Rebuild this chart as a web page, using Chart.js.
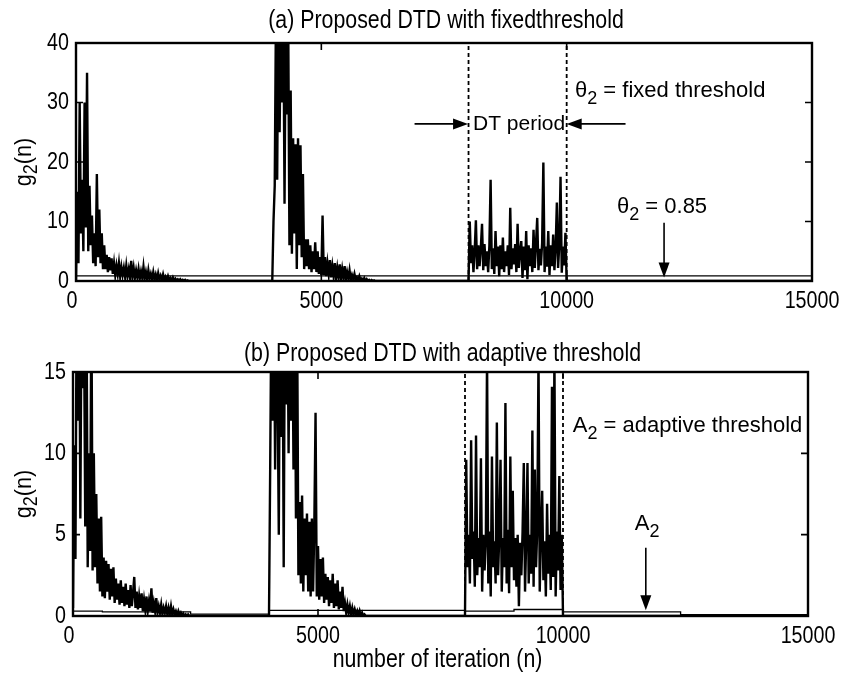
<!DOCTYPE html>
<html>
<head>
<meta charset="utf-8">
<script src="https://cdn.jsdelivr.net/npm/chart.js@4.4.0/dist/chart.umd.min.js"></script>
<style>
  body { margin: 0; background: #fff; }
  #wrap { position: relative; width: 842px; height: 682px; }
  .box { position: absolute; left: 0; width: 842px; }
</style>
</head>
<body>
<div id="wrap">
  <div class="box" style="top:0;height:330px"><canvas id="chartA" width="842" height="330"></canvas></div>
  <div class="box" style="top:330px;height:352px"><canvas id="chartB" width="842" height="352"></canvas></div>
</div>
<script>
// sample spacing of the traces (iterations)
const STEP = 25;
const X_MAX = 15000;
const xTickVals = [0, 5000, 10000, 15000];
const yTicksA = [0, 10, 20, 30, 40];
const yTicksB = [0, 5, 10, 15];
const segStarts = [0, 4000, 8000];
const dtPeriod = [8000, 10000];

// (a) g2(n), fixed threshold
const topSegA = [0, 15, 3, 30, 8, 17, 5, 30, 9, 35, 5, 16, 6, 11, 3, 8, 2.5, 18, 4, 12, 3, 8, 2, 6, 2, 4.4,
  1.5, 4, 1.8, 3.8, 1.2, 3, 1, 2.6, 1.2, 3, 0.8, 2.4, 1, 2.2, 0.7, 2.6, 0.8, 2, 0.6, 3.4, 0.7, 2.2, 0.5, 1.8,
  0.6, 2, 0.4, 1.6, 0.5, 2.4, 0.4, 1.5, 0.3, 1.8, 0.4, 1.2, 0.3, 1.5, 0.3, 1.1, 0.2, 1.3, 0.3, 0.9, 0.2, 1.1,
  0.2, 0.7, 0.1, 0.8, 0.1, 0.5, 0.1, 0.6, 0.1, 0.4, 0.1, 0.3, 0.05, 0.3, 0.05, 0.2, 0.05, 0.2, 0, 0.1, 0];
const topSegB = [0, 10, 16, 45, 17, 50, 25, 45, 30, 48, 13, 46, 28, 44, 6, 32, 4.6, 24, 8, 23, 2, 24, 6, 22.8,
  4, 18, 2, 7, 2.5, 7, 2, 6, 1.5, 5, 2, 6.5, 1.5, 5, 1.2, 4, 1, 11, 1, 4, 0.8, 3, 1.2, 3.5, 0.6, 2.5, 0.8, 3,
  0.5, 2.2, 0.6, 2.8, 0.4, 2, 0.5, 2.5, 0.3, 1.5, 0.4, 1.8, 0.2, 1, 0.3, 1.2, 0.2, 0.6, 0.1, 0.8, 0.1, 0.4,
  0.1, 0.5, 0, 0.3, 0, 0.2, 0, 0.15, 0, 0.1, 0];
const topSegC = [0, 10, 3, 6, 1.5, 5, 10.2, 2, 6, 2.5, 5.5, 9.6, 1.8, 6.2, 2.5, 5, 1.5, 6, 17, 2, 5.5, 1.2,
  8.4, 2.5, 5.8, 0.8, 6, 2, 7.3, 1.5, 5, 2.5, 6, 1, 12.3, 2, 5.5, 2.8, 6.2, 1.5, 9.6, 2.2, 5, 6.7, 0.5, 5.8,
  1.8, 8.4, 0.3, 6, 2.5, 5.5, 1.5, 8.6, 2.2, 6.3, 10.6, 1.8, 5.4, 2.6, 6.4, 19.9, 1.5, 5.8, 2.4, 8.4, 1, 6,
  2.5, 7.8, 1.8, 5.5, 13.2, 2.2, 6.2, 17.5, 1.4, 5.8, 2.6, 8.1, 0];
const fixedTheta = 0.85;

// (b) g2(n), adaptive threshold
const botSegA = [0.5, 10.5, 3.5, 20, 12, 22, 6, 20, 14, 18, 5.5, 20, 3, 10, 4, 20, 2.8, 10, 3, 7.5, 2, 6, 1.5,
  6.1, 1.2, 3.6, 1.1, 3.4, 1.5, 3.2, 1, 2.9, 1.2, 3, 0.8, 2.3, 1, 2, 0.7, 2.2, 0.8, 1.8, 0.6, 2, 0.7, 1.6, 0.5,
  1.9, 0.6, 1.4, 2.4, 0.5, 1.5, 0.4, 1.2, 0.5, 1.4, 0.3, 1, 0.4, 1.2, 0.3, 0.9, 0.3, 1.7, 0.2, 0.8, 0.3, 1.1,
  0.2, 0.6, 0.2, 0.7, 0.1, 0.5, 0.2, 0.6, 0.1, 0.5, 0.1, 0.6, 0.1, 0.4, 0.1, 0.3, 0.05, 0.3, 0.05, 0.2, 0,
  0.15, 0, 0.1, 0, 0.1, 0];
const botSegB = [0, 9.4, 20, 12, 20, 9, 20, 14, 5, 20, 11, 20, 3, 20, 13, 20, 10, 20, 12, 20, 9, 20, 6, 18,
  2.5, 7, 2, 7.4, 1.5, 6, 2.5, 6.3, 1.5, 5.8, 1.2, 6, 1.5, 5.6, 12.5, 1.2, 4.3, 1, 3.5, 1.2, 3.6, 0.8, 2.6, 1,
  2.4, 0.6, 2.2, 0.8, 2.6, 0.5, 2, 0.6, 2.2, 0.4, 1.5, 0.5, 1.8, 0.3, 0.8, 0.2, 0.7, 0.2, 0.6, 0.1, 0.5, 0.1,
  0.4, 0.1, 0.3, 0, 0.3, 0, 0.2, 0, 0.1, 0];
const botSegC = [0, 9.6, 3, 5, 2, 10.8, 3.5, 5.2, 1.8, 11.1, 2.5, 4.8, 3, 9.7, 1.5, 5, 2.8, 4.5, 16, 2, 5.2,
  1.2, 9.8, 3, 4.6, 2, 11.9, 2.5, 5, 9.6, 1.5, 4.8, 3, 13.1, 2, 5.3, 1.4, 9.8, 3, 7.7, 2.2, 4.8, 1.8, 5, 0.6,
  4.5, 2.5, 5.2, 9.4, 1.5, 4.8, 9.4, 2, 5, 2.6, 11.4, 1.8, 9, 3, 5.4, 16, 1.5, 5, 7.7, 2.2, 4.6, 1.2, 6.9,
  2.6, 5, 1.6, 14.1, 2.4, 16, 1.2, 5.2, 2.8, 8.6, 1.6, 5, 0];
const adaptN = [0, 600, 2400, 4000, 8000, 9000, 10000, 12400, 15000];
const adaptA = [0.3, 0.25, 0.12, 0.35, 0.3, 0.4, 0.25, 0.08, 0.08];

const FONT_R = "'Liberation Sans', Arial, sans-serif";
const NARROW = 0.82;
const INK = '#000';

const toPoints = (segs) => {
  const pts = [];
  segs.forEach((vals, k) => vals.forEach((v, i) => pts.push({x: segStarts[k] + i * STEP, y: v})));
  pts.push({x: X_MAX, y: 0});
  return pts;
};

// condensed text, like the Helvetica Narrow of the original
const narrowText = (ctx, text, x, y, size, align, baseline) => {
  ctx.save();
  ctx.translate(x, y);
  ctx.scale(NARROW, 1);
  ctx.font = size + 'px ' + FONT_R;
  ctx.textAlign = align;
  ctx.textBaseline = baseline;
  ctx.fillText(text, 0, 0);
  ctx.restore();
};

// text with subscripts, parts like [{t:'g'}, {t:'2', sub:true}, {t:'(n)'}]
const richText = (ctx, parts, x, y, size, align) => {
  const subSize = Math.round(size * 0.82);
  let w = 0;
  parts.forEach(p => {
    ctx.font = (p.sub ? subSize : size) + 'px ' + FONT_R;
    w += ctx.measureText(p.t).width;
  });
  let cx = align === 'center' ? x - w / 2 : x;
  ctx.textAlign = 'left';
  parts.forEach(p => {
    ctx.font = (p.sub ? subSize : size) + 'px ' + FONT_R;
    ctx.fillText(p.t, cx, p.sub ? y + size * 0.32 : y);
    cx += ctx.measureText(p.t).width;
  });
};

const arrow = (ctx, x1, y1, x2, y2) => {
  const a = Math.atan2(y2 - y1, x2 - x1), hl = 15, hw = 5.5;
  const c = Math.cos(a), s = Math.sin(a);
  ctx.lineWidth = 1.6;
  ctx.beginPath();
  ctx.moveTo(x1, y1);
  ctx.lineTo(x2 - hl * c * 0.7, y2 - hl * s * 0.7);
  ctx.stroke();
  ctx.beginPath();
  ctx.moveTo(x2, y2);
  ctx.lineTo(x2 - hl * c + hw * s, y2 - hl * s - hw * c);
  ctx.lineTo(x2 - hl * c - hw * s, y2 - hl * s + hw * c);
  ctx.closePath();
  ctx.fill();
};

const framePlugin = (title, titleGap, notes) => ({
  id: 'frame',
  afterDraw(chart) {
    const {ctx, chartArea: ca, scales: {x: xs, y: ys}} = chart;
    ctx.save();
    ctx.strokeStyle = INK;
    ctx.fillStyle = INK;
    // box
    ctx.lineWidth = 2.4;
    ctx.strokeRect(ca.left, ca.top, ca.right - ca.left, ca.bottom - ca.top);
    // inward ticks on all four sides, plus labels
    ctx.lineWidth = 1.6;
    const tl = 7;
    xs.ticks.forEach(t => {
      const px = xs.getPixelForValue(t.value);
      ctx.beginPath();
      ctx.moveTo(px, ca.bottom); ctx.lineTo(px, ca.bottom - tl);
      ctx.moveTo(px, ca.top); ctx.lineTo(px, ca.top + tl);
      ctx.stroke();
      narrowText(ctx, String(t.value), t.value === 0 ? px - 4 : px, ca.bottom + 20, 24, 'center', 'middle');
    });
    ys.ticks.forEach(t => {
      const py = ys.getPixelForValue(t.value);
      ctx.beginPath();
      ctx.moveTo(ca.left, py); ctx.lineTo(ca.left + tl, py);
      ctx.moveTo(ca.right, py); ctx.lineTo(ca.right - tl, py);
      ctx.stroke();
      narrowText(ctx, String(t.value), ca.left - 7, py, 24, 'right', 'middle');
    });
    // title
    narrowText(ctx, title, (ca.left + ca.right) / 2 + 2, ca.top - titleGap, 26, 'center', 'alphabetic');
    // y label
    ctx.save();
    ctx.translate(24, (ca.top + ca.bottom) / 2);
    ctx.rotate(-Math.PI / 2);
    ctx.scale(NARROW + 0.08, 1);
    ctx.textBaseline = 'middle';
    richText(ctx, [{t: 'g'}, {t: '2', sub: true}, {t: '(n)'}], 0, 0, 24, 'center');
    ctx.restore();
    ctx.textBaseline = 'alphabetic';
    notes(ctx, xs, ys, ca);
    ctx.restore();
  }
});

const axisOpts = (max, step, isX, size) => ({
  type: 'linear',
  min: 0,
  max: max,
  grid: {display: false, drawTicks: false},
  border: {display: false},
  ticks: {stepSize: step, display: false},
  afterFit: s => { if (isX) s.height = size; else s.width = size; }
});

const makeChart = (id, signal, threshold, thrStepped, yTicks, pad, xH, yW, title, titleGap, notes) => {
  const yMax = yTicks[yTicks.length - 1];
  const dashes = dtPeriod.map(n => ({
    data: [{x: n, y: 0}, {x: n, y: yMax}],
    borderColor: INK, borderWidth: 1.8, borderDash: [4, 3], pointRadius: 0
  }));
  return new Chart(document.getElementById(id), {
    type: 'line',
    data: {
      datasets: [
        {data: signal, borderColor: INK, borderWidth: 2.4, pointRadius: 0, tension: 0},
        {data: threshold, borderColor: INK, borderWidth: 1.3, pointRadius: 0, stepped: thrStepped}
      ].concat(dashes)
    },
    options: {
      responsive: false,
      animation: false,
      devicePixelRatio: 1,
      layout: {padding: pad},
      plugins: {legend: {display: false}, tooltip: {enabled: false}},
      scales: {
        x: axisOpts(X_MAX, xTickVals[1] - xTickVals[0], true, xH),
        y: axisOpts(yMax, yTicks[1] - yTicks[0], false, yW)
      }
    },
    plugins: [framePlugin(title, titleGap, notes)]
  });
};

makeChart('chartA', toPoints([topSegA, topSegB, topSegC]),
  [{x: 0, y: fixedTheta}, {x: X_MAX, y: fixedTheta}], false,
  yTicksA, {top: 43, right: 30, left: 0, bottom: 0}, 49, 76,
  '(a) Proposed DTD with fixedthreshold', 15,
  (ctx, xs, ys) => {
    const X = v => xs.getPixelForValue(v), Y = v => ys.getPixelForValue(v);
    arrow(ctx, X(6900), Y(26.4), X(7990), Y(26.4));
    arrow(ctx, X(11200), Y(26.4), X(10000), Y(26.4));
    ctx.textBaseline = 'middle';
    richText(ctx, [{t: 'DT period'}], X(9030), Y(26.4), 21, 'center');
    ctx.textBaseline = 'alphabetic';
    richText(ctx, [{t: '\u03b8'}, {t: '2', sub: true}, {t: ' = fixed threshold'}], X(10170), Y(30.9), 22, 'left');
    richText(ctx, [{t: '\u03b8'}, {t: '2', sub: true}, {t: ' = 0.85'}], X(11025), Y(11.4), 22, 'left');
    arrow(ctx, X(11985), Y(9.8), X(11985), Y(0.6));
  });

makeChart('chartB', toPoints([botSegA, botSegB, botSegC]),
  adaptN.map((n, i) => ({x: n, y: adaptA[i]})), 'before',
  yTicksB, {top: 42, right: 34, left: 0, bottom: 0}, 66, 73,
  '(b) Proposed DTD with adaptive threshold', 11,
  (ctx, xs, ys, ca) => {
    const X = v => xs.getPixelForValue(v), Y = v => ys.getPixelForValue(v);
    richText(ctx, [{t: 'A'}, {t: '2', sub: true}, {t: ' = adaptive threshold'}], X(10200), Y(11.3), 22, 'left');
    richText(ctx, [{t: 'A'}, {t: '2', sub: true}], X(11465), Y(5.3), 22, 'left');
    arrow(ctx, X(11690), Y(4.2), X(11690), Y(0.35));
    narrowText(ctx, 'number of iteration (n)', (ca.left + ca.right) / 2 - 3, ca.bottom + 44, 26, 'center', 'middle');
  });
</script>
</body>
</html>
